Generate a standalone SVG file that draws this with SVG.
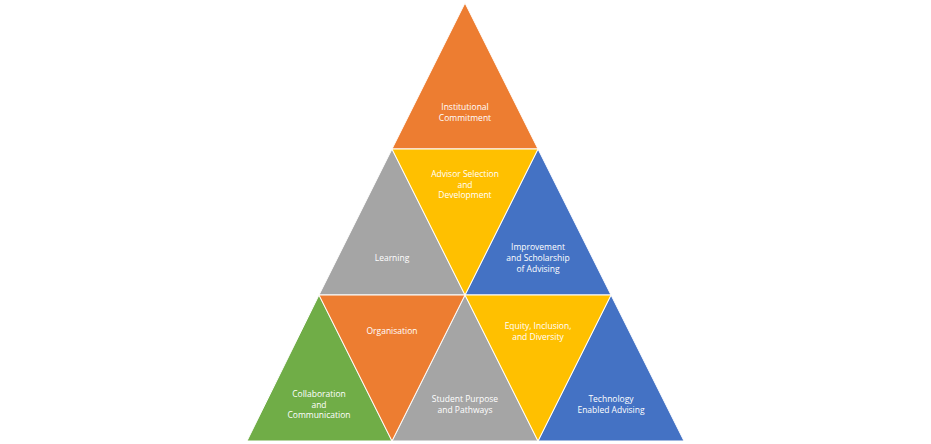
<svg xmlns="http://www.w3.org/2000/svg" width="931" height="444" viewBox="0 0 931 444">
<style>
.t{stroke:#ffffff;stroke-width:1;stroke-linejoin:miter}
.o{fill:#ED7D31}.y{fill:#FFC000}.g{fill:#A5A5A5}.b{fill:#4472C4}.gr{fill:#70AD47}
text{font-family:"Open Sans","Liberation Sans",sans-serif;font-size:8.5px;fill:#ffffff;text-anchor:middle}
</style>
<rect width="931" height="444" fill="#ffffff"/>
<g id="institutional"><polygon class="t o" points="465,3 538,149 392,149"/><text x="465" y="109.5">Institutional</text><text x="465" y="120.5">Commitment</text></g>
<g id="learning"><polygon class="t g" points="392,149 465,295 319,295"/><text x="392" y="261">Learning</text></g>
<g id="improvement"><polygon class="t b" points="538,149 611,295 465,295"/><text x="538" y="250">Improvement</text><text x="538" y="261">and Scholarship</text><text x="538" y="271.5">of Advising</text></g>
<g id="advisor"><polygon class="t y" points="392,149 538,149 465,295"/><text x="465" y="177">Advisor Selection</text><text x="465" y="187.5">and</text><text x="465" y="198">Development</text></g>
<g id="collaboration"><polygon class="t gr" points="319,295 392,441 247,441"/><text x="319" y="397">Collaboration</text><text x="319" y="407.5">and</text><text x="319" y="418">Communication</text></g>
<g id="student"><polygon class="t g" points="465,295 538,441 392,441"/><text x="465" y="402">Student Purpose</text><text x="465" y="413">and Pathways</text></g>
<g id="technology"><polygon class="t b" points="611,295 684,441 538,441"/><text x="611" y="402">Technology</text><text x="611" y="413">Enabled Advising</text></g>
<g id="organisation"><polygon class="t o" points="319,295 465,295 392,441"/><text x="392" y="334">Organisation</text></g>
<g id="equity"><polygon class="t y" points="465,295 611,295 538,441"/><text x="538" y="329">Equity, Inclusion,</text><text x="538" y="340">and Diversity</text></g>
</svg>
